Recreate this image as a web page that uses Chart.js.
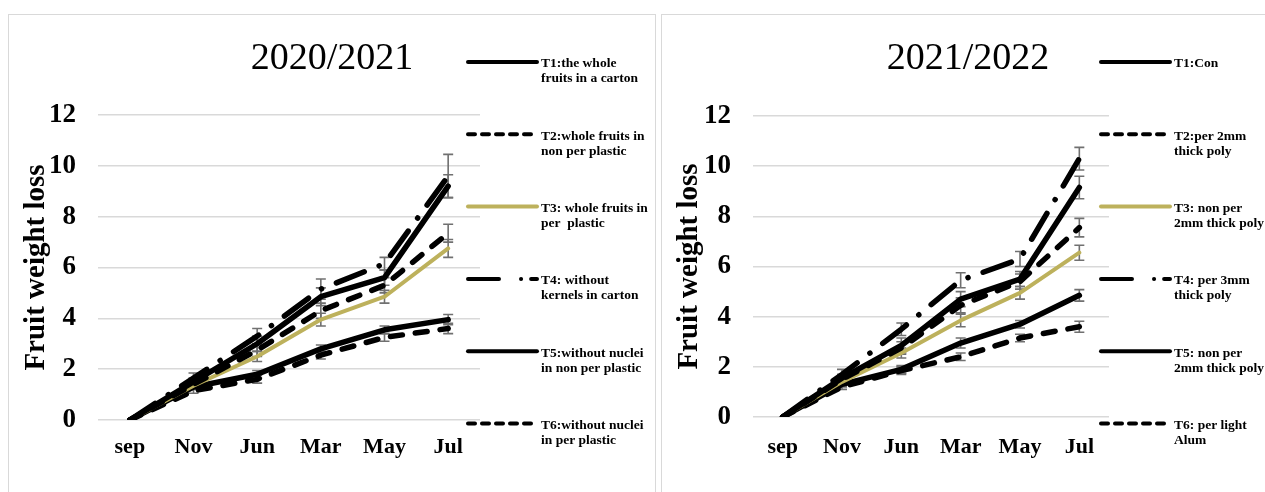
<!DOCTYPE html>
<html>
<head>
<meta charset="utf-8">
<script src="https://cdn.jsdelivr.net/npm/chart.js@4.4.1/dist/chart.umd.min.js"></script>
<style>
  html, body { margin:0; padding:0; background:#fff; overflow:hidden; width:1265px; height:492px; }
  .panel { position:absolute; top:14px; border:1px solid #d9d9d9; height:520px; overflow:hidden; background:#fff; }
  #p1 { left:8px; width:646px; }
  #p2 { left:661px; width:620px; }
  canvas { display:block; }
</style>
</head>
<body>
<div class="panel" id="p1"><canvas id="c1" width="646" height="477"></canvas></div>
<div class="panel" id="p2"><canvas id="c2" width="612" height="477"></canvas></div>
<script>
const months = ["sep", "Nov", "Jun", "Mar", "May", "Jul"];

// 2020/2021
const t1a = [0, 1.5, 3.0, 4.85, 5.6, 9.2];
const t2a = [0, 1.4, 2.75, 4.3, 5.3, 7.35];
const t3a = [0, 1.35, 2.5, 3.95, 4.85, 6.75];
const t4a = [0, 1.65, 3.3, 5.15, 6.15, 9.6];
const t5a = [0, 1.3, 1.8, 2.8, 3.55, 3.95];
const t6a = [0, 1.15, 1.6, 2.55, 3.25, 3.6];
const errA = [
  [0, 0.15, 0.3, 0.35, 0.3, 0.45],
  [0, 0.1, 0.25, 0.3, 0.3, 0.35],
  [0, 0.1, 0.2, 0.25, 0.25, 0.35],
  [0, 0.2, 0.3, 0.4, 0.25, 0.85],
  [0, 0.1, 0.15, 0.15, 0.15, 0.2],
  [0, 0.1, 0.15, 0.15, 0.15, 0.2]
];
const labelsA = [
  ["T1:the whole", "fruits in a carton"],
  ["T2:whole fruits in", "non per plastic"],
  ["T3: whole fruits in", "per  plastic"],
  ["T4: without", "kernels in carton"],
  ["T5:without nuclei", "in non per plastic"],
  ["T6:without nuclei", "in per plastic"]
];

// 2021/2022
const t1b = [0, 1.55, 2.85, 4.7, 5.5, 9.15];
const t2b = [0, 1.5, 2.75, 4.45, 5.4, 7.55];
const t3b = [0, 1.4, 2.55, 3.85, 4.95, 6.55];
const t4b = [0, 1.7, 3.5, 5.45, 6.3, 10.3];
const t5b = [0, 1.3, 1.9, 2.95, 3.7, 4.85];
const t6b = [0, 1.2, 1.85, 2.4, 3.15, 3.6];
const errB = [
  [0, 0.15, 0.3, 0.3, 0.3, 0.45],
  [0, 0.15, 0.25, 0.3, 0.3, 0.37],
  [0, 0.1, 0.2, 0.25, 0.25, 0.3],
  [0, 0.2, 0.25, 0.3, 0.3, 0.45],
  [0, 0.1, 0.15, 0.2, 0.15, 0.23],
  [0, 0.1, 0.15, 0.15, 0.15, 0.22]
];
const labelsB = [
  ["T1:Con"],
  ["T2:per 2mm", "thick poly"],
  ["T3: non per", "2mm thick poly"],
  ["T4: per 3mm", "thick poly"],
  ["T5: non per", "2mm thick poly"],
  ["T6: per light", "Alum"]
];

// styles
const colors = ["#000", "#000", "#bdb15c", "#000", "#000", "#000"];
const widths = [5.5, 5.5, 4, 5.5, 5.5, 5.5];
const dashes = [[], [12, 13], [], [30, 16, 0.1, 16], [], [12, 13]];
const legendDashes = [[], [7, 7], [], [31, 22, 0.1, 10], [], [7, 7]];

Chart.defaults.font.family = '"Liberation Serif", "Times New Roman", serif';
Chart.defaults.color = "#000";

/* error bars, drawn under the lines */
const errorBars = {
  id: "errorBars",
  beforeDatasetsDraw(chart) {
    const { ctx, scales } = chart;
    ctx.save();
    ctx.strokeStyle = "#707070";
    ctx.lineWidth = 1.6;
    chart.data.datasets.forEach(ds => {
      ds.errors.forEach((e, i) => {
        if (!e) return;
        const px = scales.x.getPixelForValue(i);
        const top = scales.y.getPixelForValue(ds.data[i] + e);
        const bot = scales.y.getPixelForValue(ds.data[i] - e);
        ctx.beginPath();
        ctx.moveTo(px, top); ctx.lineTo(px, bot);
        ctx.moveTo(px - 5, top); ctx.lineTo(px + 5, top);
        ctx.moveTo(px - 5, bot); ctx.lineTo(px + 5, bot);
        ctx.stroke();
      });
    });
    ctx.restore();
  }
};

/* legend on the right side, two text lines per item */
const sideLegend = {
  id: "sideLegend",
  afterDraw(chart, args, opts) {
    const ctx = chart.ctx;
    const x0 = chart.chartArea.right + opts.offset;
    ctx.save();
    chart.data.datasets.forEach((ds, i) => {
      const yy = opts.top + i * opts.step;
      ctx.beginPath();
      ctx.setLineDash(legendDashes[i]);
      ctx.lineCap = "round";
      ctx.lineWidth = 4;
      ctx.strokeStyle = ds.borderColor;
      ctx.moveTo(x0, yy);
      ctx.lineTo(x0 + 69, yy);
      ctx.stroke();
      ctx.setLineDash([]);
      ctx.fillStyle = "#000";
      ctx.font = 'bold 13.5px "Liberation Serif"';
      ctx.textBaseline = "middle";
      ctx.textAlign = "left";
      ds.legendText.forEach((t, k) => ctx.fillText(t, x0 + 73, yy + 2 + k * 15));
    });
    ctx.restore();
  }
};

function makeChart(id, title, series, errs, names, lay) {
  new Chart(document.getElementById(id), {
    type: "line",
    data: {
      labels: months,
      datasets: series.map((s, i) => ({
        label: names[i].join(" "),
        legendText: names[i],
        data: s,
        errors: errs[i],
        borderColor: colors[i],
        borderWidth: widths[i],
        borderDash: dashes[i],
        borderCapStyle: "round",
        borderJoinStyle: "round",
        pointRadius: 0,
        tension: 0,
        fill: false
      }))
    },
    options: {
      responsive: false,
      animation: false,
      layout: { padding: 0 },
      plugins: {
        legend: { display: false },
        tooltip: { enabled: false },
        title: {
          display: true,
          text: title,
          font: { size: 38, weight: "normal" },
          color: "#000",
          padding: { top: 21, bottom: lay.top - 21 - 45.6 }
        },
        sideLegend: { offset: lay.legOffset, top: 47, step: 72.3 }
      },
      scales: {
        x: {
          offset: true,
          grid: { display: false, drawTicks: false },
          border: { display: false },
          ticks: { font: { size: 22, weight: "bold" }, padding: lay.xPad },
          afterFit(s) { s.height = lay.xH; }
        },
        y: {
          min: 0, max: 12,
          ticks: { stepSize: 2, font: { size: 27, weight: "bold" }, padding: 22 },
          grid: { color: "#d9d9d9", lineWidth: 1.5, drawTicks: false },
          border: { display: false },
          title: {
            display: true,
            text: "Fruit weight loss",
            font: { size: 29, weight: "bold" },
            padding: { top: 10, bottom: 0 }
          },
          afterFit(s) { s.width = lay.yW; }
        },
        side: {
          type: "linear",
          position: "right",
          grid: { display: false, drawTicks: false },
          border: { display: false },
          ticks: { display: false },
          afterFit(s) { s.width = lay.sideW; }
        }
      }
    },
    plugins: [errorBars, sideLegend]
  });
}

makeChart("c1", "2020/2021", [t1a, t2a, t3a, t4a, t5a, t6a], errA, labelsA,
  { top: 100, xH: 72, xPad: 14, yW: 89, sideW: 175, legOffset: -12 });
makeChart("c2", "2021/2022", [t1b, t2b, t3b, t4b, t5b, t6b], errB, labelsB,
  { top: 101, xH: 75, xPad: 17, yW: 91, sideW: 165, legOffset: -8 });
</script>
</body>
</html>
